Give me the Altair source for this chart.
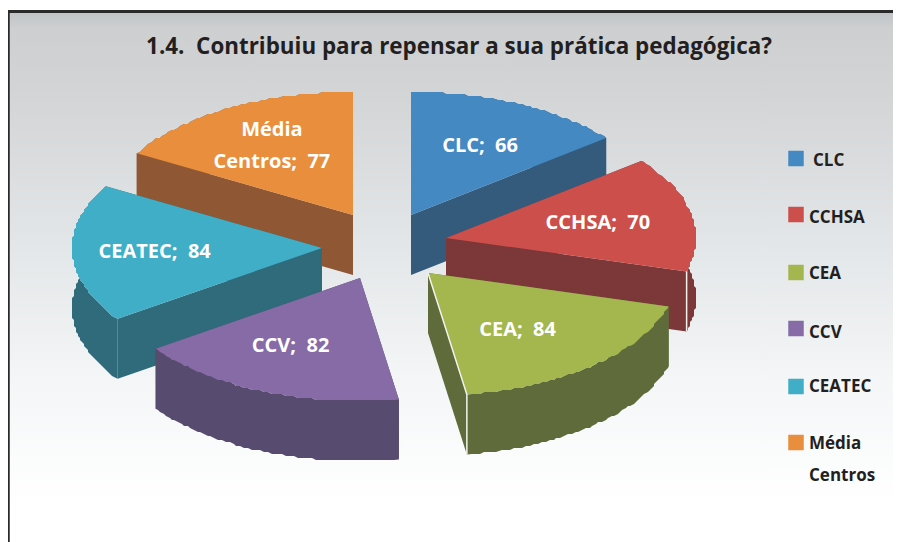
import math
import altair as alt

# --- data
slices = ["CLC", "CCHSA", "CEA", "CCV", "CEATEC", "Média Centros"]
values = [66, 70, 84, 82, 84, 77]
top_colors = ["#4589C3", "#CC4F4B", "#A4B74F", "#866BA6", "#41AEC7", "#E98E3C"]
side_colors = ["#345A7C", "#7C3838", "#5F6B3A", "#574B6F", "#2F6B7A", "#8F5734"]
title_text = "1.4.\u00a0 Contribuiu para repensar a sua prática pedagógica?"
legend_labels = ["CLC", "CCHSA", "CEA", "CCV", "CEATEC", "Média|Centros"]

# --- layout (chart pixels; page origin is 8,8)
W, H = 885, 534
RX, RY, DEPTH = 250, 123, 60
apex = [(403, 207), (438, 230), (420, 265), (352, 270), (314, 240), (345, 207)]
label_frac = [0.62, 0.62, 0.60, 0.62, 0.67, 0.65]
label_dx = [2, 0, -10, -9, 0, 0]
label_dy = [0, 0, 2, -2, 0, 0]
draw_order = [5, 0, 4, 1, 3, 2]
legend_y = [150.5, 206.5, 264.5, 320.5, 378.5, 434.5]
legend_text_y = [152, 209, 265, 324, 378, 435]
legend_text_x = [805, 801, 801, 801, 801, 801]

total = sum(values)
starts, a = [], 0.0
for v in values:
    starts.append(a)
    a += v / total * 2 * math.pi
ends = starts[1:] + [2 * math.pi]


def pt(c, ang, dy=0.0):
    return [c[0] + RX * math.sin(ang), c[1] - RY * math.cos(ang) + dy]


def rim(c, a0, a1, dy=0.0):
    n = max(2, int((a1 - a0) / math.radians(1)))
    out = []
    for k in range(n + 1):
        p = pt(c, a0 + (a1 - a0) * k / n, dy)
        if 0 < k < n:
            p = [round(p[0] / 2) * 2, round(p[1] / 2) * 2]
        out.append(p)
    return out


def poly(coords, fill):
    return {
        "type": "Feature",
        "properties": {"fill": fill},
        "geometry": {"type": "Polygon", "coordinates": [coords + [coords[0]]]},
    }


features, white_lines = [], []
for i in draw_order:
    c, a0, a1 = apex[i], starts[i], ends[i]
    low = (c[0], c[1] + DEPTH)
    up = rim(c, a0, a1)
    down = rim(c, a0, a1, DEPTH)
    # side walls, then the curved outer wall, then the top
    features.append(poly([list(c), up[0], down[0], list(low)], side_colors[i]))
    features.append(poly([list(c), up[-1], down[-1], list(low)], side_colors[i]))
    features.append(poly(up + down[::-1], side_colors[i]))
    features.append(poly([list(c)] + up, top_colors[i]))
    if slices[i] == "CEA":
        white_lines.append({"type": "Feature", "properties": {},
                            "geometry": {"type": "LineString",
                                         "coordinates": [list(c), up[-1], down[-1]]}})
    if slices[i] == "CCHSA":
        white_lines.append({"type": "Feature", "properties": {},
                            "geometry": {"type": "LineString",
                                         "coordinates": [up[-1], down[-1]]}})

proj = dict(type="identity", scale=1, translate=[0, 0])

background = alt.Chart(alt.Data(values=[{"a": 1}])).mark_rect(
    fill=alt.Gradient(
        gradient="linear", x1=0, x2=0, y1=0, y2=1,
        stops=[
            alt.GradientStop(offset=0, color="#C0C4C6"),
            alt.GradientStop(offset=0.03, color="#CDCFD1"),
            alt.GradientStop(offset=0.15, color="#D2D4D6"),
            alt.GradientStop(offset=0.45, color="#E4E7E9"),
            alt.GradientStop(offset=0.70, color="#F4F6F7"),
            alt.GradientStop(offset=0.93, color="#FFFFFF"),
            alt.GradientStop(offset=1, color="#FFFFFF"),
        ],
    )
).encode(x=alt.value(0), x2=alt.value(W), y=alt.value(4), y2=alt.value(H))

frame_top = alt.Chart(alt.Data(values=[{"a": 1}])).mark_rule(
    color="#2B2A2B", strokeWidth=3
).encode(x=alt.value(0), x2=alt.value(W), y=alt.value(3.5))
frame_left = alt.Chart(alt.Data(values=[{"a": 1}])).mark_rule(
    color="#2B2A2B", strokeWidth=2.5
).encode(x=alt.value(0.5), y=alt.value(2), y2=alt.value(H))

shapes = alt.Chart(alt.Data(values=features)).mark_geoshape().encode(
    color=alt.Color("properties.fill:N", scale=None, legend=None)
).project(**proj)

lines = alt.Chart(alt.Data(values=white_lines)).mark_geoshape(
    filled=False, stroke="#F2F2EE", strokeWidth=1.5
).project(**proj)

title = alt.Chart(alt.Data(values=[{"t": title_text}])).mark_text(
    font="Open Sans", fontWeight="bold", fontSize=22.4, color="#231F20"
).encode(text="t:N", x=alt.value(451), y=alt.value(39))

label_rows = []
for i, name in enumerate(slices):
    mid = (starts[i] + ends[i]) / 2
    px = apex[i][0] + RX * math.sin(mid) * label_frac[i] + label_dx[i]
    py = apex[i][1] - RY * math.cos(mid) * label_frac[i] + label_dy[i]
    text = f"{name};\u00a0 {values[i]}".replace("Média ", "Média|")
    label_rows.append({"px": px, "py": py - (16 if "|" in text else 0), "t": text})

labels = alt.Chart(alt.Data(values=label_rows)).mark_text(
    font="Open Sans", fontWeight="bold", fontSize=20, color="white",
    lineBreak="|", lineHeight=32, baseline="middle"
).encode(
    x=alt.X("px:Q", scale=None, axis=None),
    y=alt.Y("py:Q", scale=None, axis=None),
    text="t:N",
)

legend_rows = [
    {"x": 788, "y": legend_y[i], "c": top_colors[i], "t": legend_labels[i],
     "tx": legend_text_x[i], "ty": legend_text_y[i]}
    for i in range(len(slices))
]
swatches = alt.Chart(alt.Data(values=legend_rows)).mark_square(
    size=240, opacity=1, filled=True
).encode(
    x=alt.X("x:Q", scale=None, axis=None),
    y=alt.Y("y:Q", scale=None, axis=None),
    color=alt.Color("c:N", scale=None, legend=None),
)
legend_text = alt.Chart(alt.Data(values=legend_rows)).mark_text(
    font="Open Sans", fontWeight="bold", fontSize=17, color="#231F20",
    align="left", baseline="top", lineBreak="|", lineHeight=32, dy=-7
).encode(
    x=alt.X("tx:Q", scale=None, axis=None),
    y=alt.Y("ty:Q", scale=None, axis=None),
    text="t:N",
)

chart = alt.layer(
    background, frame_top, frame_left, shapes, lines, title, labels, swatches, legend_text
).properties(
    width=W, height=H, padding=0, autosize="none"
).configure_view(stroke=None)

chart.save("out.html", embed_options={"renderer": "svg", "actions": False})
